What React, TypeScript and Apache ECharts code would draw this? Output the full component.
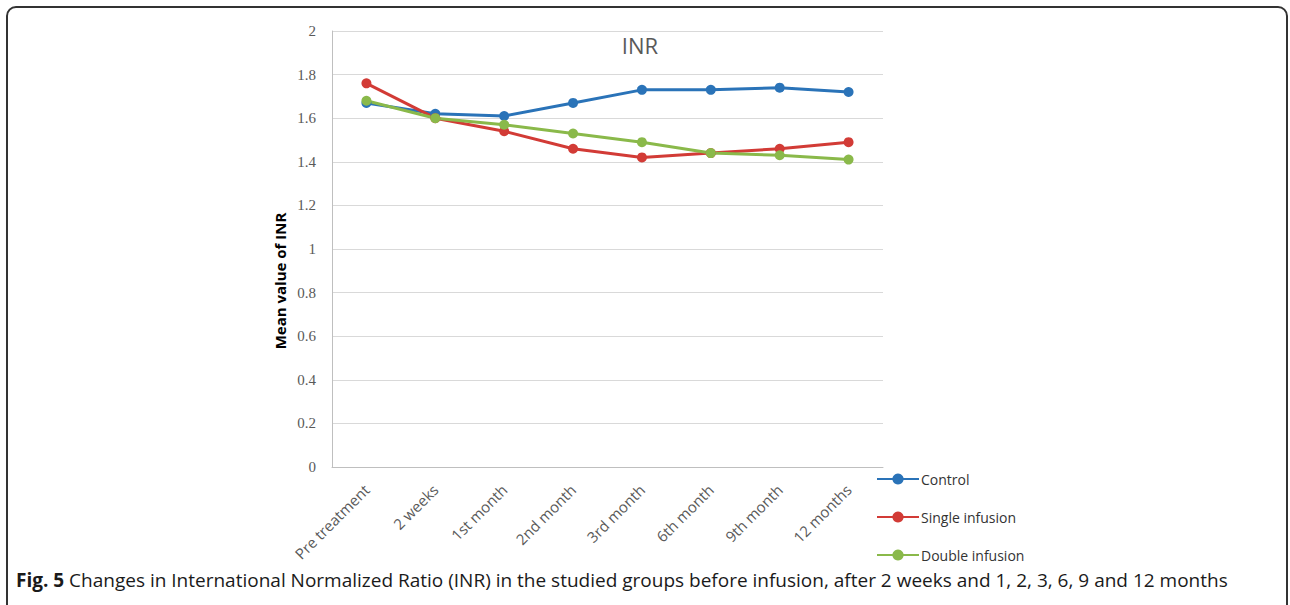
import React, { useEffect, useRef } from "react";
import * as echarts from "echarts";

const categories = ["Pre treatment", "2 weeks", "1st month", "2nd month", "3rd month", "6th month", "9th month", "12 months"];
const controlValues = [1.67, 1.62, 1.61, 1.67, 1.73, 1.73, 1.74, 1.72];
const singleValues = [1.76, 1.6, 1.54, 1.46, 1.42, 1.44, 1.46, 1.49];
const doubleValues = [1.68, 1.6, 1.57, 1.53, 1.49, 1.44, 1.43, 1.41];
const seriesNames = ["Control", "Single infusion", "Double infusion"];
const seriesColors = ["#2a73b8", "#d23b36", "#8ab94a"];
const yMin = 0;
const yMax = 2;
const yInterval = 0.2;
const chartTitle = "INR";
const yAxisTitle = "Mean value of INR";
const captionBold = "Fig. 5";
const captionText = " Changes in International Normalized Ratio (INR) in the studied groups before infusion, after 2 weeks and 1, 2, 3, 6, 9 and 12 months";

export default function App() {
  const ref = useRef<HTMLDivElement>(null);
  useEffect(() => {
    if (!ref.current) return;
    const chart = echarts.init(ref.current, null, { renderer: "svg" });
    const values = [controlValues, singleValues, doubleValues];
    chart.setOption({
      animation: false,
      backgroundColor: "#ffffff",
      title: {
        text: chartTitle,
        left: 635,
        top: 29,
        textAlign: "center",
        textStyle: { fontFamily: "Open Sans, sans-serif", fontSize: 22, fontWeight: "normal", color: "#595959" },
      },
      grid: { left: 332, right: 407, top: 31, bottom: 138, containLabel: false },
      legend: {
        orient: "vertical",
        left: 871,
        top: 467,
        itemGap: 24,
        itemWidth: 42,
        itemHeight: 14,
        data: seriesNames,
        textStyle: { fontFamily: "Open Sans, sans-serif", fontSize: 14, color: "#333333", padding: [0, 0, 0, -3] },
      },
      xAxis: {
        type: "category",
        data: categories,
        boundaryGap: true,
        axisLine: { lineStyle: { color: "#bfbfbf", width: 1 } },
        axisTick: { show: false },
        axisLabel: {
          rotate: 45,
          interval: 0,
          margin: 20,
          fontFamily: "Open Sans, sans-serif",
          fontSize: 15,
          color: "#595959",
        },
      },
      yAxis: {
        type: "value",
        min: yMin,
        max: yMax,
        interval: yInterval,
        axisLine: { show: true, lineStyle: { color: "#bfbfbf", width: 1 } },
        axisTick: { show: false },
        splitLine: { lineStyle: { color: "#d9d9d9", width: 1 } },
        axisLabel: {
          margin: 16,
          fontFamily: "Liberation Serif, DejaVu Serif, serif",
          fontSize: 15,
          color: "#595959",
          formatter: (v: number) => String(Math.round(v * 10) / 10),
        },
      },
      series: values.map((d, i) => ({
        name: seriesNames[i],
        type: "line",
        data: d,
        symbol: "circle",
        symbolSize: 10,
        itemStyle: { color: seriesColors[i] },
        lineStyle: { color: seriesColors[i], width: 3 },
      })),
      graphic: [
        {
          type: "rect",
          shape: { x: 7, y: 7, width: 1280, height: 640, r: 9 },
          style: { fill: "none", stroke: "#333333", lineWidth: 2 },
          silent: true,
        },
        {
          type: "text",
          x: 280,
          y: 281,
          rotation: Math.PI / 2,
          style: {
            text: yAxisTitle,
            fontFamily: "Open Sans, sans-serif",
            fontWeight: "bold",
            fontSize: 15,
            fill: "#000000",
            align: "center",
            verticalAlign: "middle",
          },
        },
        {
          type: "text",
          x: 16,
          y: 580,
          style: {
            text: "{b|" + captionBold + "}{r|" + captionText + "}",
            verticalAlign: "middle",
            rich: {
              b: { fontFamily: "Open Sans, sans-serif", fontWeight: "bold", fontSize: 19, fill: "#1a1a1a" },
              r: { fontFamily: "Open Sans, sans-serif", fontSize: 19, fill: "#1a1a1a" },
            },
          },
        },
      ],
    });
    return () => chart.dispose();
  }, []);
  return <div ref={ref} style={{ position: "fixed", left: 0, top: 0, width: 1290, height: 605 }} />;
}
